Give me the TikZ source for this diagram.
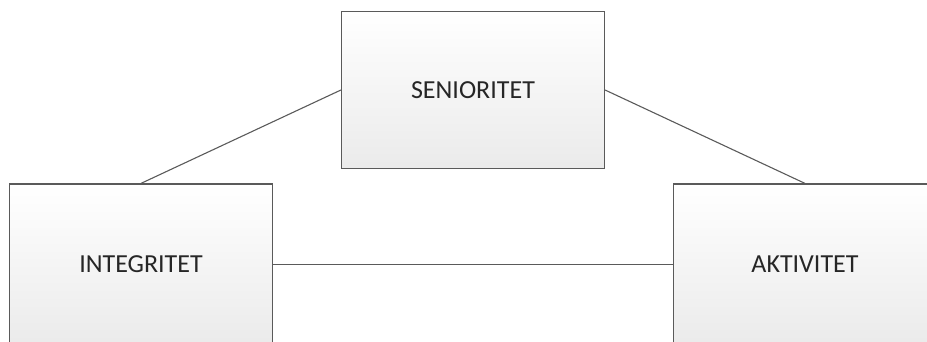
\documentclass[tikz,border=0pt]{standalone}
\usepackage{fontspec}
\setmainfont{Carlito}
\definecolor{boxline}{HTML}{5A5A5A}
\definecolor{boxtext}{HTML}{262626}
\begin{document}
\begin{tikzpicture}[x=1pt,y=-1pt,
    conceptbox/.style={draw=boxline,line width=1.2pt,rectangle,
      top color=white,bottom color=black!8,text=boxtext,
      minimum width=263pt,minimum height=157pt,
      font=\fontsize{26}{30}\selectfont},
    lowbox/.style={conceptbox,minimum height=161pt}]
      \useasboundingbox (0,0) rectangle (927,341);
      \clip (0,0) rectangle (927,341);
      \draw
        (473,90) node[conceptbox] (sen){SENIORITET}
        (141,264.5) node[lowbox] (int){INTEGRITET}
        (805,264.5) node[lowbox] (akt){AKTIVITET};
      \begin{scope}[-,draw=boxline,line width=1.1pt]
        \draw (sen.west) to (int.north);
        \draw (sen.east) to (akt.north);
        \draw (int.east) to (akt.west);
      \end{scope}
    \end{tikzpicture}
\end{document}
